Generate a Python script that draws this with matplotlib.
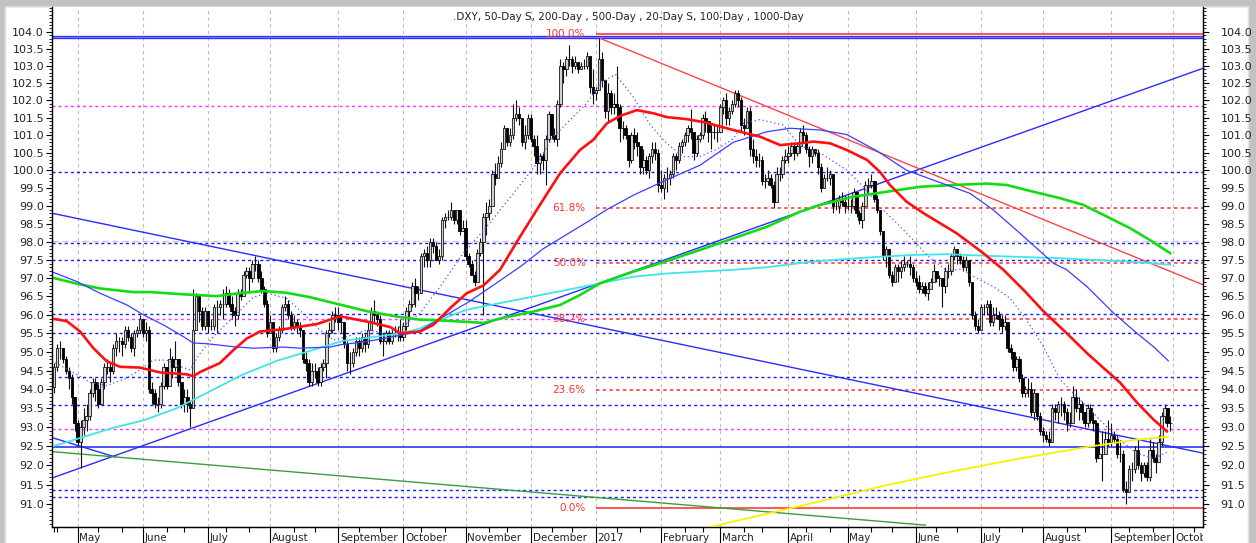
import numpy as np
import pandas as pd
import matplotlib
matplotlib.use("Agg")
import matplotlib.pyplot as plt
from matplotlib.collections import LineCollection, PolyCollection
from matplotlib.ticker import FixedLocator, FuncFormatter, NullFormatter
from matplotlib.transforms import Bbox, blended_transform_factory

plt.rcParams["font.family"] = ["DejaVu Sans"]

# ---------------------------------------------------------------- price data
# Daily US Dollar Index bars, one entry per weekday from 2016-04-20 to 2017-09-29.
# The open of each bar is the previous close.
first_open = 94.05
close = [
    # Apr 2016
    94.6, 95.1, 95.1, 94.8, 94.5, 94.3, 93.8, 93.1,
    # May 2016
    92.6, 93.0, 93.2, 93.3, 93.9, 94.2, 94.0, 93.6, 94.2, 94.6, 94.6, 94.5, 95.1, 95.3, 95.3, 95.2,
    95.6, 95.4, 95.1, 95.5, 95.6, 95.9,
    # Jun 2016
    95.5, 95.6, 94.0, 93.9, 93.6, 93.6, 94.1, 94.6, 94.1, 94.8, 94.6, 94.8, 94.2, 93.6, 93.8, 93.6,
    93.5, 95.6, 96.5, 96.1, 95.7, 96.1,
    # Jul 2016
    95.7, 95.7, 96.2, 96.2, 96.3, 96.3, 96.6, 96.3, 96.1, 96.0, 96.6, 96.5, 97.1, 97.2, 97.0, 97.4,
    97.4, 97.0, 96.7, 96.3, 95.5,
    # Aug 2016
    95.8, 95.1, 95.4, 95.6, 96.2, 96.3, 96.0, 95.7, 95.8, 95.7, 95.6, 94.8, 94.7, 94.2, 94.5, 94.5,
    94.2, 94.6, 94.7, 95.5, 95.6, 96.0, 96.0,
    # Sep 2016
    95.8, 95.8, 95.2, 94.7, 94.7, 95.0, 95.3, 95.1, 95.4, 95.2, 95.6, 96.1, 96.0, 95.9, 95.3, 95.3,
    95.5, 95.3, 95.5, 95.5, 95.5, 95.4,
    # Oct 2016
    95.7, 96.1, 96.3, 96.8, 96.6, 96.6, 97.6, 97.7, 97.5, 98.0, 97.9, 97.5, 97.6, 98.6, 98.7, 98.7,
    98.9, 98.6, 98.9, 98.3, 98.4,
    # Nov 2016
    97.6, 97.4, 97.1, 96.9, 97.7, 98.0, 98.7, 98.8, 99.0, 99.9, 99.8, 100.2, 100.6, 101.2, 100.8,
    101.0, 101.5, 101.6, 101.5, 100.8, 101.0, 101.5,
    # Dec 2016
    100.9, 100.7, 100.2, 100.4, 100.3, 100.9, 101.6, 101.0, 100.9, 101.9, 103.0, 102.9, 103.2, 103.2,
    103.0, 103.1, 102.9, 103.0, 103.0, 103.3, 102.4, 102.2,
    # Jan 2017
    102.3, 103.2, 102.6, 101.7, 102.2, 101.8, 101.9, 101.8, 101.2, 101.2, 101.0, 100.3, 101.0, 100.8,
    100.7, 100.1, 100.3, 100.0, 100.4, 100.6, 100.5, 99.6,
    # Feb 2017
    99.5, 99.8, 99.8, 99.9, 100.4, 100.3, 100.7, 100.8, 101.0, 101.2, 101.1, 100.5, 100.9, 101.0,
    101.5, 101.4, 101.1, 101.1, 101.1, 101.1,
    # Mar 2017
    101.8, 102.0, 101.5, 101.7, 101.9, 102.2, 102.0, 101.3, 101.2, 101.7, 100.6, 100.4, 100.3, 100.3,
    99.7, 99.7, 99.8, 99.6, 99.1, 99.9, 99.9, 100.3, 100.4,
    # Apr 2017
    100.5, 100.7, 100.5, 100.7, 101.1, 101.0, 100.6, 100.4, 100.6, 100.5, 100.1, 99.5, 99.8, 99.8,
    99.9, 99.0, 99.0, 99.2, 99.1, 99.0,
    # May 2017
    99.0, 99.0, 99.4, 98.8, 98.6, 99.0, 99.6, 99.6, 99.7, 99.2, 98.9, 98.3, 97.6, 97.8, 97.1, 96.9,
    97.3, 97.2, 97.3, 97.4, 97.4, 97.3, 97.0,
    # Jun 2017
    96.9, 96.7, 96.8, 96.6, 96.7, 96.9, 97.2, 97.0, 97.0, 96.8, 97.2, 97.2, 97.6, 97.8, 97.6, 97.5,
    97.3, 97.5, 96.9, 96.0, 95.7, 95.6,
    # Jul 2017
    96.2, 96.2, 96.3, 95.8, 96.0, 96.0, 95.9, 95.7, 95.8, 95.1, 95.0, 94.6, 94.8, 94.3, 93.9, 94.0,
    94.0, 93.4, 93.9, 93.3, 92.9,
    # Aug 2017
    92.8, 92.7, 92.6, 93.5, 93.4, 93.6, 93.6, 93.4, 93.1, 93.1, 93.8, 93.5, 93.6, 93.4, 93.1, 93.5,
    93.2, 93.1, 92.2, 92.3, 92.3, 92.7, 92.6,
    # Sep 2017
    92.8, 92.7, 92.3, 92.3, 91.4, 91.3, 91.9, 91.9, 92.4, 92.0, 91.8, 92.0, 91.7, 92.4, 92.2, 92.1,
    92.6, 93.3, 93.5, 93.1, 93.1,
]
high = [
    94.7, 95.2, 95.3, 95.1, 94.9, 94.6, 94.4, 93.8,
    93.2, 93.2, 93.5, 93.6, 94.0, 94.3, 94.3, 94.2, 94.3, 94.7, 94.8, 94.7, 95.2, 95.5, 95.4, 95.4,
    95.7, 95.7, 95.5, 95.6, 95.7, 96.0,
    95.9, 95.8, 95.7, 94.2, 94.0, 93.8, 94.2, 94.7, 94.6, 95.1, 94.9, 95.3, 94.8, 94.2, 94.0, 94.0,
    93.7, 96.7, 96.6, 96.5, 96.2, 96.2,
    96.1, 95.9, 96.3, 96.4, 96.4, 96.7, 96.8, 96.7, 96.5, 96.2, 96.7, 96.7, 97.2, 97.3, 97.3, 97.5,
    97.6, 97.5, 97.2, 96.8, 96.4,
    96.0, 95.8, 95.5, 95.7, 96.3, 96.5, 96.4, 96.1, 96.0, 95.9, 95.8, 95.6, 95.0, 94.8, 94.7, 94.7,
    94.6, 94.7, 94.8, 95.6, 95.8, 96.1, 96.2,
    96.2, 96.0, 95.8, 95.3, 95.0, 95.1, 95.4, 95.4, 95.5, 95.5, 95.8, 96.2, 96.4, 96.1, 96.0, 95.5,
    95.6, 95.6, 95.6, 95.7, 95.7, 95.9,
    95.8, 96.2, 96.4, 96.9, 97.0, 96.8, 97.7, 97.8, 97.9, 98.1, 98.1, 98.0, 97.8, 98.7, 98.8, 98.9,
    99.1, 98.9, 98.9, 98.9, 98.6,
    98.6, 97.7, 97.5, 97.2, 97.8, 98.1, 98.8, 99.1, 99.2, 100.0, 100.2, 100.4, 100.8, 101.3, 101.2,
    101.2, 101.9, 102.0, 101.8, 101.5, 101.3, 101.6,
    101.6, 101.0, 101.0, 100.5, 100.5, 101.0, 101.7, 101.6, 101.2, 102.0, 103.2, 103.1, 103.3, 103.6,
    103.3, 103.3, 103.1, 103.1, 103.2, 103.4, 103.3, 102.9,
    102.4, 103.82, 103.4, 102.6, 102.5, 102.3, 102.2, 103.0, 101.9, 101.4, 101.3, 101.0, 101.1, 101.2,
    101.1, 100.5, 100.6, 100.4, 100.5, 100.8, 100.8, 100.6,
    100.0, 99.9, 100.1, 100.0, 100.5, 100.5, 100.8, 100.9, 101.1, 101.3, 101.75, 101.1, 101.0, 101.1,
    101.6, 101.7, 101.4, 101.3, 101.3, 101.3,
    101.9, 102.1, 102.2, 101.8, 102.0, 102.3, 102.3, 102.1, 101.5, 101.8, 101.8, 100.9, 100.6, 100.5,
    100.4, 99.9, 100.0, 99.9, 99.7, 100.1, 100.1, 100.4, 100.6,
    100.7, 100.8, 100.8, 100.8, 101.2, 101.3, 101.1, 100.7, 100.7, 100.6, 100.6, 100.2, 99.9, 100.1,
    100.0, 99.1, 99.2, 99.3, 99.4, 99.3,
    99.3, 99.2, 99.5, 99.4, 98.9, 99.1, 99.7, 99.8, 99.9, 99.7, 99.3, 98.9, 98.3, 97.9, 97.8, 97.2,
    97.4, 97.4, 97.5, 97.6, 97.5, 97.6, 97.4,
    97.2, 97.1, 96.9, 96.9, 96.9, 97.0, 97.4, 97.2, 97.1, 97.0, 97.3, 97.4, 97.7, 97.9, 97.8, 97.7,
    97.6, 97.6, 97.5, 96.9, 96.1, 95.9,
    96.3, 96.3, 96.4, 96.4, 96.2, 96.2, 96.1, 96.0, 96.0, 95.8, 95.2, 95.0, 94.9, 94.9, 94.4, 94.1,
    94.3, 94.2, 94.0, 93.9, 93.4,
    93.0, 92.9, 92.9, 93.6, 93.6, 93.7, 93.8, 93.7, 93.5, 93.4, 94.1, 94.0, 93.8, 93.7, 93.4, 93.6,
    93.6, 93.4, 93.2, 92.6, 92.9, 92.9, 93.2,
    93.1, 92.9, 92.8, 92.6, 92.4, 91.6, 92.0, 92.1, 92.5, 92.7, 92.1, 92.1, 92.1, 92.7, 92.6, 92.3,
    92.8, 93.4, 93.6, 93.5, 93.3,
]
low = [
    93.9, 94.5, 94.8, 94.7, 94.4, 94.0, 93.6, 92.9,
    92.5, 91.92, 92.8, 92.9, 93.2, 93.8, 93.7, 93.5, 93.6, 94.0, 94.4, 94.2, 94.4, 94.9, 95.0, 94.9,
    95.1, 95.3, 95.0, 94.9, 95.4, 95.5,
    95.4, 95.3, 93.9, 93.6, 93.5, 93.4, 93.5, 94.0, 94.0, 94.1, 94.3, 94.5, 94.1, 93.5, 93.4, 93.4,
    93.0, 93.5, 95.6, 95.8, 95.6, 95.6,
    95.5, 95.6, 95.6, 95.5, 96.0, 95.9, 96.2, 96.2, 95.9, 95.7, 95.9, 96.4, 96.5, 97.0, 96.6, 96.9,
    97.2, 96.9, 96.6, 96.2, 95.4,
    95.5, 95.0, 95.0, 95.3, 95.5, 96.1, 95.9, 95.6, 95.6, 95.5, 95.4, 94.7, 94.5, 94.1, 94.1, 94.3,
    94.1, 94.1, 94.5, 94.3, 95.4, 95.5, 95.8,
    95.6, 95.5, 95.1, 94.5, 94.4, 94.6, 94.9, 94.9, 95.0, 95.0, 95.1, 95.6, 95.8, 95.7, 95.2, 94.9,
    95.2, 95.2, 95.2, 95.4, 95.3, 95.3,
    95.3, 95.6, 95.9, 96.2, 96.2, 96.4, 96.6, 97.3, 97.3, 97.3, 97.7, 97.5, 97.4, 97.5, 98.4, 98.6,
    98.6, 98.5, 98.5, 98.2, 98.3,
    97.5, 97.3, 97.1, 96.8, 97.1, 97.6, 96.0, 98.2, 98.6, 99.0, 99.6, 99.8, 100.1, 100.6, 100.7,
    100.7, 100.9, 101.4, 101.3, 100.7, 100.6, 100.9,
    100.8, 100.4, 99.9, 99.9, 100.0, 99.6, 100.8, 100.9, 100.8, 100.7, 101.8, 102.5, 102.7, 103.0,
    102.8, 102.9, 102.8, 102.9, 102.9, 102.9, 102.2, 101.9,
    102.0, 102.3, 102.4, 101.5, 101.4, 101.6, 101.6, 101.4, 100.8, 100.9, 100.9, 100.1, 100.2, 100.6,
    100.4, 99.9, 99.9, 99.9, 99.8, 100.2, 100.3, 99.4,
    99.4, 99.2, 99.4, 99.6, 99.8, 100.0, 100.2, 100.5, 100.7, 100.8, 100.9, 100.3, 100.4, 100.8,
    100.9, 101.1, 100.8, 100.6, 100.9, 100.8,
    101.1, 101.6, 101.3, 101.3, 101.6, 101.8, 101.8, 101.1, 101.0, 101.2, 100.4, 100.2, 100.1, 100.1,
    99.6, 99.5, 99.6, 99.5, 98.95, 99.1, 99.7, 99.8, 100.2,
    100.2, 100.4, 100.3, 100.4, 100.5, 100.8, 100.5, 100.1, 100.2, 100.4, 99.9, 99.4, 99.5, 99.7,
    99.6, 98.8, 98.9, 98.8, 99.0, 98.8,
    98.9, 98.8, 98.9, 98.7, 98.5, 98.4, 99.0, 99.4, 99.5, 99.1, 98.8, 98.2, 97.5, 97.3, 97.0, 96.8,
    96.9, 96.9, 97.0, 97.2, 97.3, 97.1, 96.9,
    96.8, 96.6, 96.6, 96.5, 96.4, 96.7, 96.9, 96.9, 96.8, 96.2, 96.6, 97.0, 97.1, 97.5, 97.4, 97.4,
    97.2, 97.2, 96.8, 95.9, 95.6, 95.5,
    95.6, 96.0, 96.0, 95.7, 95.7, 95.9, 95.6, 95.5, 95.6, 95.0, 94.8, 94.5, 94.5, 94.2, 93.8, 93.8,
    93.8, 93.3, 93.2, 93.2, 92.8,
    92.6, 92.6, 92.5, 92.6, 93.2, 93.1, 93.3, 93.2, 92.9, 93.0, 93.1, 93.4, 93.2, 93.2, 93.0, 93.0,
    93.1, 92.9, 92.1, 92.2, 91.6, 92.3, 92.5,
    92.5, 92.6, 92.2, 92.1, 91.3, 91.01, 91.4, 91.6, 91.8, 91.9, 91.6, 91.7, 91.6, 91.6, 92.1, 91.8,
    92.2, 92.5, 93.1, 93.0, 92.9,
]

# ------------------------------------------------------- moving averages
# (bar number, level) pairs; bar 0 is the first session shown.
ma50_bar = [-0.8, 4.3, 8.8, 13.3, 17.8, 22.3, 29.0, 35.8, 44.8, 47.0, 49.3, 56.0, 60.6, 65.1, 69.6,
            77.4, 88.7, 96.6, 105.6, 113.5, 116.9, 123.6, 128.1, 134.0, 139.4, 145.0, 150.6, 157.4,
            163.0, 170.9, 177.6, 182.1, 186.7, 191.1, 196.8, 202.4, 206.9, 213.7, 220.4, 224.9,
            231.7, 238.4, 245.2, 251.9, 256.4, 262.1, 267.7, 274.5, 278.9, 282.3, 287.9, 293.6,
            299.2, 304.8, 309.4, 313.8, 320.6, 327.4, 334.1, 342.0, 348.8, 354.4, 360.0, 365.7,
            371.3, 375.8]
ma50_val = [95.90, 95.83, 95.55, 95.10, 94.75, 94.60, 94.58, 94.45, 94.40, 94.35, 94.46, 94.70,
            95.05, 95.36, 95.55, 95.61, 95.75, 95.96, 95.82, 95.67, 95.50, 95.55, 95.73, 96.20,
            96.59, 96.80, 97.23, 98.15, 98.89, 99.92, 100.58, 100.87, 101.34, 101.55, 101.72,
            101.63, 101.52, 101.46, 101.36, 101.25, 101.10, 100.96, 100.72, 100.77, 100.82, 100.77,
            100.58, 100.30, 99.96, 99.59, 99.12, 98.80, 98.52, 98.24, 97.96, 97.69, 97.23, 96.68,
            96.10, 95.50, 94.97, 94.57, 94.18, 93.65, 93.20, 92.89]

ma100_bar = [-0.8, 7.7, 15.5, 24.6, 30.2, 36.9, 43.7, 47.0, 51.6, 60.6, 67.3, 77.4, 83.1, 93.2,
             96.6, 105.6, 114.6, 120.2, 123.6, 130.4, 140.0, 150.0, 158.0, 165.0, 172.0, 180.0,
             186.7, 195.6, 204.6, 218.2, 229.4, 240.7, 248.6, 258.7, 267.7, 278.0, 288.0, 301.5,
             309.4, 317.2, 326.2, 337.5, 342.0, 348.8, 357.8, 365.7, 371.3, 376.3]
ma100_val = [97.18, 96.91, 96.59, 96.27, 96.00, 95.73, 95.41, 95.24, 95.22, 95.14, 95.10, 95.13,
             95.10, 95.13, 95.19, 95.28, 95.41, 95.50, 95.57, 95.90, 96.35, 96.90, 97.35, 97.80,
             98.15, 98.55, 98.90, 99.30, 99.65, 100.15, 100.80, 101.10, 101.20, 101.15, 101.02,
             100.55, 100.00, 99.59, 99.35, 98.89, 98.24, 97.41, 97.23, 96.77, 96.05, 95.50, 95.14,
             94.76]

ma200_bar = [-0.8, 7.7, 15.5, 26.8, 32.4, 43.7, 54.9, 62.8, 70.7, 78.6, 86.5, 95.5, 105.6, 116.9,
             123.6, 128.1, 139.4, 145.0, 150.6, 161.9, 170.9, 177.6, 184.4, 195.6, 204.6, 218.2,
             229.4, 240.7, 251.9, 258.7, 269.9, 281.2, 292.5, 303.7, 315.0, 321.7, 330.7, 339.7,
             347.6, 356.6, 363.4, 370.1, 376.9]
ma200_val = [97.02, 96.85, 96.72, 96.62, 96.62, 96.56, 96.51, 96.59, 96.65, 96.60, 96.48, 96.30,
             96.10, 95.94, 95.87, 95.86, 95.81, 95.78, 95.90, 96.09, 96.27, 96.54, 96.86, 97.18,
             97.41, 97.78, 98.10, 98.42, 98.84, 99.03, 99.26, 99.40, 99.54, 99.59, 99.63, 99.59,
             99.40, 99.22, 99.03, 98.66, 98.38, 98.05, 97.69]

ma500_bar = [-0.8, 7.7, 18.9, 30.2, 41.5, 52.7, 63.9, 75.2, 86.5, 97.7, 109.0, 116.9, 123.6, 128.1,
             139.4, 150.6, 161.9, 173.2, 184.4, 195.6, 206.9, 218.2, 229.4, 240.7, 256.4, 267.7,
             278.9, 290.2, 301.5, 317.2, 339.7, 362.3, 376.9]
ma500_val = [92.49, 92.69, 92.96, 93.18, 93.50, 93.95, 94.40, 94.76, 95.03, 95.30, 95.41, 95.50,
             95.63, 95.80, 96.14, 96.32, 96.50, 96.68, 96.86, 97.04, 97.13, 97.18, 97.23, 97.30,
             97.46, 97.53, 97.59, 97.64, 97.66, 97.61, 97.55, 97.46, 97.37]

ma20_bar = [-0.8, 7.7, 12.2, 17.8, 24.6, 29.0, 33.5, 38.0, 42.5, 45.9, 49.3, 53.8, 60.6, 67.3, 71.8,
            78.6, 85.4, 89.8, 94.3, 98.8, 105.6, 112.4, 119.1, 123.6, 130.4, 138.2, 146.1, 155.1,
            163.0, 168.6, 174.3, 179.9, 184.4, 189.6, 195.6, 201.3, 206.9, 212.5, 218.2, 223.8,
            229.4, 232.8, 238.4, 246.3, 251.9, 258.7, 267.7, 273.3, 278.9, 284.6, 290.2, 294.7,
            301.5, 306.0, 310.5, 317.2, 322.9, 328.5, 334.1, 339.8, 345.4, 351.0, 355.5, 360.0,
            365.7, 371.3, 375.8]
ma20_val = [94.76, 94.40, 94.18, 94.10, 94.30, 94.52, 94.78, 94.78, 94.61, 94.52, 94.96, 95.41,
            95.94, 96.48, 96.59, 96.45, 95.94, 95.59, 95.32, 95.41, 95.59, 95.50, 95.77, 96.05,
            96.77, 97.69, 98.42, 99.35, 100.19, 100.96, 101.44, 101.92, 102.50, 102.75, 102.10,
            101.30, 100.77, 100.39, 100.40, 100.60, 100.90, 101.34, 101.45, 101.29, 100.70, 100.50,
            100.01, 99.54, 98.98, 98.52, 98.05, 97.64, 97.20, 97.25, 97.05, 96.77, 96.45, 95.86,
            95.14, 94.25, 93.81, 93.37, 93.01, 92.66, 92.32, 92.18, 92.34]

ma1000_bar = [218.0, 258.7, 281.2, 303.7, 326.2, 348.8, 364.5, 376.3]
ma1000_val = [90.35, 91.07, 91.49, 91.85, 92.18, 92.48, 92.66, 92.75]

# ------------------------------------------------------- drawn levels
fib_low, fib_high = 90.90, 103.93
fib_pcts = [0.0, 23.6, 38.2, 50.0, 61.8, 100.0]
fib_start = 183                      # first session of 2017
blue_dotted = [99.95, 97.96, 97.49, 96.02, 95.52, 94.32, 93.58, 91.37, 91.17]
magenta_dotted = [101.84, 95.88, 92.96]
blue_solid = [92.48, 103.84]
grid_level = 98.03

# straight trend lines: ((bar0, level0), (bar1, level1))
trend_blue = [((-0.78, 98.80), (388.0, 92.32)),
              ((-0.78, 91.67), (388.0, 102.93)),
              ((-0.78, 92.73), (20.6, 92.22))]
trend_red = [((184.0, 103.82), (388.0, 96.82))]
trend_green = [((-0.78, 92.36), (294.2, 90.46))]

title = ".DXY, 50-Day S, 200-Day , 500-Day , 20-Day S, 100-Day , 1000-Day"
month_names = ["May", "June", "July", "August", "September", "October", "November", "December",
               "2017", "February", "March", "April", "May", "June", "July", "August", "September",
               "October"]

# ------------------------------------------------------- figure
W, H = 1256, 543
fig = plt.figure(figsize=(W / 100, H / 100), dpi=100)

# panel with a soft grey drop shadow along its edges
bg = fig.add_axes([0, 0, 1, 1])
bg.axis("off")
yy, xx = np.mgrid[0:H, 0:W]
edge = np.minimum.reduce([xx - 3.5, 1249.5 - xx, yy - 5.0])
shade = np.clip(edge / 3.0, 0.0, 1.0)
bg.imshow(0.76 + 0.24 * shade, cmap="gray", vmin=0, vmax=1, extent=[0, W, H, 0],
          aspect="auto", interpolation="bilinear")
bg.set_xlim(0, W)
bg.set_ylim(H, 0)

L, R, B, T = 51.7, 1203.0, 526.7, 7.3
ax = fig.add_axes([L / W, (H - B) / H, (R - L) / W, (B - T) / H])
ax.set_facecolor("white")
ax.set_yscale("log")
ymin, ymax = 90.42, 104.72
xmin, xmax = -0.78, 388.0
ax.set_ylim(ymin, ymax)
ax.set_xlim(xmin, xmax)

# sessions and calendar positions
dates = pd.bdate_range("2016-04-20", "2017-09-29")
n = len(dates)
assert n == len(close) == len(high) == len(low)
axis_days = pd.bdate_range("2016-04-20", "2017-10-31")
pos = pd.Series(np.arange(len(axis_days)), index=axis_days)
month_starts = [pos[(axis_days.year == y) & (axis_days.month == m)].iloc[0]
                for y, m in [(2016, m) for m in range(5, 13)] + [(2017, m) for m in range(1, 11)]]
minor_days = []
for y, m in [(2016, m) for m in range(4, 13)] + [(2017, m) for m in range(1, 11)]:
    for d in (11, 21):
        sel = pos[(axis_days >= pd.Timestamp(y, m, d))]
        if len(sel):
            minor_days.append(sel.iloc[0])

# vertical month grid and one horizontal grid line
for b in month_starts:
    ax.axvline(b, color="#bdbdbd", lw=0.8, ls=(0, (3, 3)), zorder=0.5)
ax.axhline(grid_level, color="#c4c4c4", lw=0.9, ls=(0, (5, 3)), zorder=0.5)

# horizontal levels
for v in blue_dotted:
    ax.axhline(v, color="#1a1aff", lw=1.0, ls=(0, (2.2, 2.2)), zorder=1)
for v in magenta_dotted:
    if abs(v - (fib_low + 0.382 * (fib_high - fib_low))) < 0.1:
        ax.hlines(v, xmin, fib_start, color="#ff33ff", lw=1.0, ls=(0, (2.2, 2.2)), zorder=1)
    else:
        ax.axhline(v, color="#ff33ff", lw=1.0, ls=(0, (2.2, 2.2)), zorder=1)
ax.axhline(blue_solid[0], color="#2222ee", lw=1.1, zorder=1)
ax.axhline(blue_solid[1], color="#3030ff", lw=2.4, zorder=1)
ax.axhline(blue_solid[1], color="#9a9aff", lw=0.5, zorder=1.05)

# Fibonacci retracement
for p in fib_pcts:
    lvl = fib_low + p / 100.0 * (fib_high - fib_low)
    solid = p in (0.0, 100.0)
    ax.hlines(lvl, fib_start, xmax, color="#ff2a2a", lw=1.1,
              ls="-" if solid else (0, (2.2, 2.2)), zorder=1.2)
    ax.text(179.5, lvl, f"{p:.1f}%", ha="right", va="center", color="#ff3030",
            fontsize=7.5, zorder=6)

# trend lines
for (x0, y0), (x1, y1) in trend_blue:
    ax.plot([x0, x1], [y0, y1], color="#2b2bff", lw=1.0, zorder=2)
for (x0, y0), (x1, y1) in trend_red:
    ax.plot([x0, x1], [y0, y1], color="#ff4444", lw=1.0, zorder=2)
for (x0, y0), (x1, y1) in trend_green:
    ax.plot([x0, x1], [y0, y1], color="#3c9c3c", lw=1.0, zorder=2)

# candlesticks
opens = [first_open] + close[:-1]
xs = np.arange(n)
wicks = [[(x, lo), (x, hi)] for x, lo, hi in zip(xs, low, high)]
ax.add_collection(LineCollection(wicks, colors="#111111", linewidths=0.8, zorder=3))
hw = 0.42
up_bodies, dn_bodies = [], []
for x, o, c in zip(xs, opens, close):
    lo_b, hi_b = min(o, c), max(o, c)
    poly = [(x - hw, lo_b), (x + hw, lo_b), (x + hw, hi_b), (x - hw, hi_b)]
    (up_bodies if c >= o else dn_bodies).append(poly)
ax.add_collection(PolyCollection(up_bodies, facecolors="#d0d0d0", edgecolors="#151515",
                                 linewidths=0.6, zorder=3.1))
ax.add_collection(PolyCollection(dn_bodies, facecolors="#000000", edgecolors="#000000",
                                 linewidths=0.6, zorder=3.1))

# moving averages
ax.plot(ma1000_bar, ma1000_val, color="#f4f400", lw=1.3, zorder=4)
ax.plot(ma500_bar, ma500_val, color="#3ee6e6", lw=1.3, zorder=4)
ax.plot(ma200_bar, ma200_val, color="#14dc14", lw=1.9, zorder=4)
ax.plot(ma100_bar, ma100_val, color="#3c3cff", lw=0.9, zorder=4)
ax.plot(ma50_bar, ma50_val, color="#ff1010", lw=1.9, zorder=4.2)
ax.plot(ma20_bar, ma20_val, color="#5050ff", lw=0.9, ls=(0, (1, 2.2)), zorder=4)

# axes styling
ax.spines["top"].set_visible(False)
for s in ("left", "right", "bottom"):
    ax.spines[s].set_color("#222222")
    ax.spines[s].set_linewidth(1.0)

yt_major = np.arange(91.0, 104.01, 0.5)
yt_minor = np.arange(90.5, 104.71, 0.1)
fmt = FuncFormatter(lambda v, p: f"{v:.1f}")

ax.yaxis.set_major_locator(FixedLocator(yt_major))
ax.yaxis.set_minor_locator(FixedLocator(yt_minor))
ax.yaxis.set_major_formatter(fmt)
ax.yaxis.set_minor_formatter(NullFormatter())
ax.tick_params(axis="y", which="major", length=4.5, width=0.8, pad=1.0, labelsize=8,
               labelcolor="#222222", left=True, right=False)
ax.tick_params(axis="y", which="minor", length=2.2, width=0.6, left=True, right=False)

ax2 = ax.twinx()
ax2.set_yscale("log")
ax2.set_ylim(ymin, ymax)
ax2.spines["top"].set_visible(False)
ax2.yaxis.set_major_locator(FixedLocator(yt_major))
ax2.yaxis.set_minor_locator(FixedLocator(yt_minor))
ax2.yaxis.set_major_formatter(fmt)
ax2.yaxis.set_minor_formatter(NullFormatter())
ax2.tick_params(axis="y", which="major", length=4.5, width=0.8, pad=8, labelsize=8,
                labelcolor="#222222")
ax2.tick_params(axis="y", which="minor", length=2.2, width=0.6)

ax.xaxis.set_major_locator(FixedLocator(month_starts))
ax.xaxis.set_minor_locator(FixedLocator(minor_days))
ax.xaxis.set_major_formatter(NullFormatter())
ax.tick_params(axis="x", which="major", length=12, width=0.8, direction="out")
ax.tick_params(axis="x", which="minor", length=3.5, width=0.8, direction="out")

tr = blended_transform_factory(ax.transData, ax.transAxes)
clip = Bbox.from_extents(0, 0, R, H)
for b, name in zip(month_starts, month_names):
    t = ax.text(b + 0.6, -6.0 / (B - T), name, transform=tr, ha="left", va="top",
                fontsize=7.5, color="#222222", clip_on=True)
    t.set_clip_box(clip)

fig.text(0.5, 1 - 16.7 / H, title, ha="center", va="center", fontsize=7.5, color="#222222")

fig.savefig("out.png", dpi=100)
